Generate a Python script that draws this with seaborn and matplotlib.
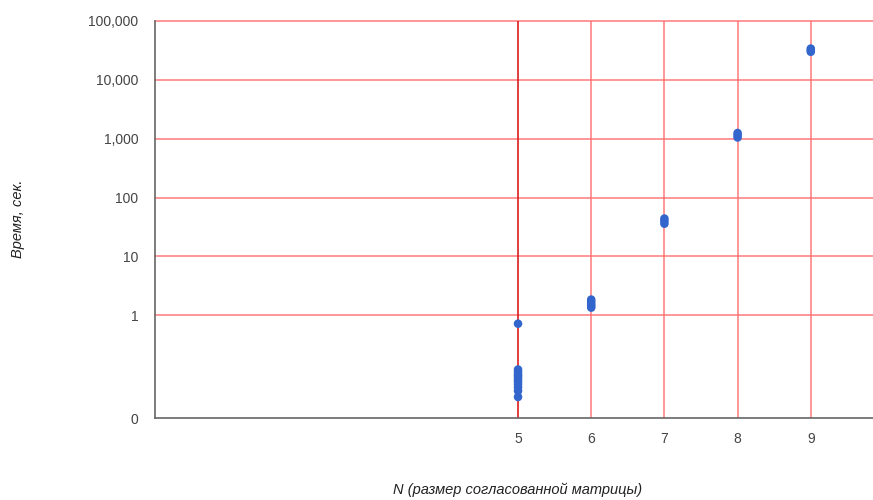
import pandas as pd
import matplotlib.pyplot as plt
import seaborn as sns
import numpy as np

# values (time in seconds for each matrix size N)
n5 = [0.72, 0.12, 0.11, 0.10, 0.094, 0.087, 0.080, 0.074, 0.067, 0.060, 0.052, 0.041]
n6 = [1.35, 1.45, 1.55, 1.7, 1.85]
n7 = [36, 40, 44]
n8 = [1050, 1150, 1250]
n9 = [30000, 32000, 34000]

y_ticks = [0.018, 1, 10, 100, 1000, 10000, 100000]
y_labels = ["0", "1", "10", "100", "1,000", "10,000", "100,000"]
x_ticks = [5, 6, 7, 8, 9]

df = pd.concat([
    pd.DataFrame({"N": 5, "t": n5}),
    pd.DataFrame({"N": 6, "t": n6}),
    pd.DataFrame({"N": 7, "t": n7}),
    pd.DataFrame({"N": 8, "t": n8}),
    pd.DataFrame({"N": 9, "t": n9}),
])

sns.set_style("white")
plt.rcParams["font.family"] = ["Liberation Sans", "DejaVu Sans"]

fig = plt.figure(figsize=(8.73, 5), dpi=100)
ax = fig.add_axes([155 / 873, 82 / 500, 718 / 873, 397 / 500])

ax.set_yscale("log")
ax.set_xlim(0.04, 9.85)
ax.set_ylim(0.018, 100000)

# grid
for v in y_ticks[1:]:
    ax.axhline(v, color="#ff7070", lw=1.2, alpha=0.85, zorder=1, clip_on=False)
for v in x_ticks[1:]:
    ax.axvline(v, color="#ff7070", lw=1.2, alpha=0.85, zorder=1)
ax.axvline(x_ticks[0], color="#dd1c1c", lw=1.2, zorder=1)

sns.scatterplot(data=df, x="N", y="t", ax=ax, color="#3366cc", s=38,
                edgecolor="none", zorder=3, legend=False)

ax.set_yticks(y_ticks)
ax.set_yticklabels(y_labels)
ax.minorticks_off()
ax.set_xticks(x_ticks)
ax.set_xticklabels([str(v) for v in x_ticks])
ax.tick_params(length=0, labelsize=10, labelcolor="#444444")
ax.tick_params(axis="y", pad=12)
ax.tick_params(axis="x", pad=10)

for s in ["top", "right"]:
    ax.spines[s].set_visible(False)
for s in ["left", "bottom"]:
    ax.spines[s].set_color("#666666")
    ax.spines[s].set_linewidth(1.2)
    ax.spines[s].set_zorder(4)

ax.set_xlabel("")
ax.set_ylabel("")
fig.text(518 / 873, 1 - 490 / 500, "N (размер согласованной матрицы)", ha="center", va="center",
         fontsize=10.5, style="italic", color="#222222")
fig.text(18 / 873, 1 - 219 / 500, "Время, сек.", ha="center", va="center", rotation=90,
         fontsize=10.5, style="italic", color="#222222")

fig.savefig("out.png", dpi=100)
